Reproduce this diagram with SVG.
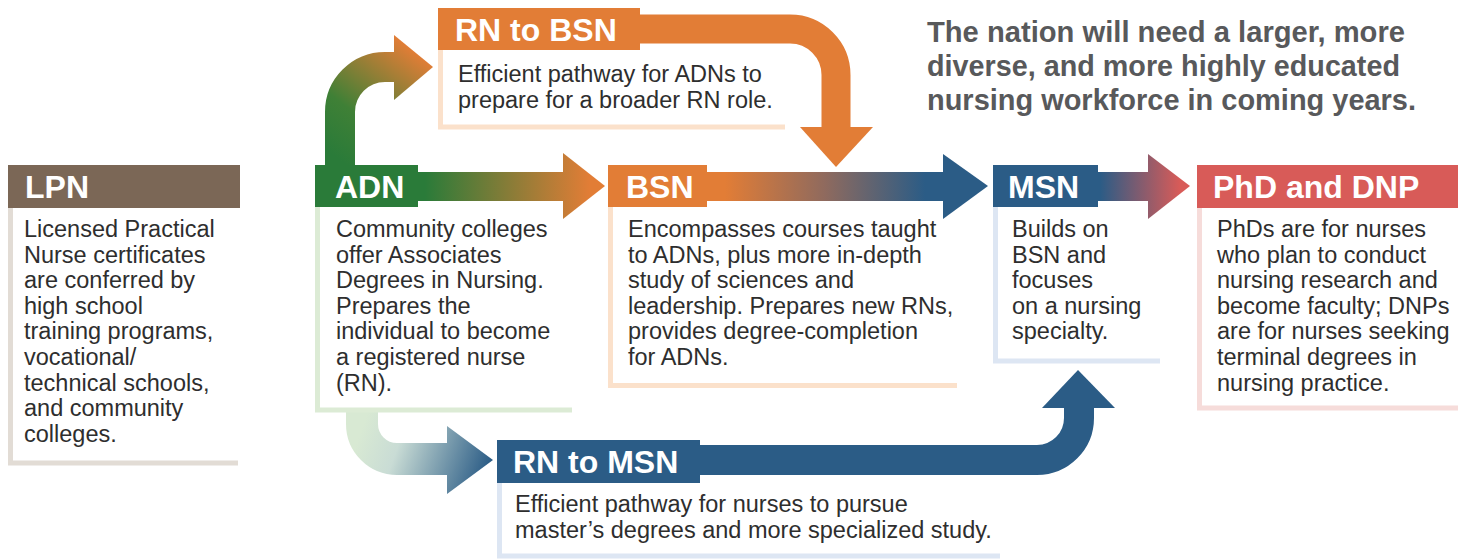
<svg xmlns="http://www.w3.org/2000/svg" width="1458" height="559" viewBox="0 0 1458 559">
<style>
.hd{font-family:"Liberation Sans",Arial,sans-serif;font-weight:bold;font-size:32px;fill:#fff}
.bd{font-family:"Liberation Sans",Arial,sans-serif;font-size:23.5px;fill:#2e2e2e}
.ttl{font-family:"Liberation Sans",Arial,sans-serif;font-weight:bold;font-size:30px;fill:#58595b}
.brd{fill:none;stroke-width:5}
</style>
<defs>
<linearGradient id="gUp" gradientUnits="userSpaceOnUse" x1="340" y1="160" x2="420" y2="55">
<stop offset="0" stop-color="#2a7b39"/><stop offset="0.35" stop-color="#3f8036"/><stop offset="1" stop-color="#e27d36"/>
</linearGradient>
<linearGradient id="gAB" gradientUnits="userSpaceOnUse" x1="425" y1="0" x2="590" y2="0">
<stop offset="0" stop-color="#2a7b39"/><stop offset="1" stop-color="#e27d36"/>
</linearGradient>
<linearGradient id="gBM" gradientUnits="userSpaceOnUse" x1="725" y1="0" x2="925" y2="0">
<stop offset="0" stop-color="#e27d36"/><stop offset="0.5" stop-color="#8f6a5e"/><stop offset="1" stop-color="#2b5c86"/>
</linearGradient>
<linearGradient id="gMP" gradientUnits="userSpaceOnUse" x1="1100" y1="0" x2="1180" y2="0">
<stop offset="0" stop-color="#2b5c86"/><stop offset="1" stop-color="#d85b58"/>
</linearGradient>
<linearGradient id="gRM" gradientUnits="userSpaceOnUse" x1="365" y1="420" x2="490" y2="465">
<stop offset="0" stop-color="#d8e9d3"/><stop offset="0.3" stop-color="#c9dcd5"/><stop offset="1" stop-color="#2b5c86"/>
</linearGradient>
</defs>

<g id="connectors">
  <path d="M340 166 V112 A45 45 0 0 1 385 67 H396" fill="none" stroke="url(#gUp)" stroke-width="30"/>
  <polygon points="394,35 433,67 394,100" fill="url(#gUp)"/>
  <path d="M636 29 H790 A46 46 0 0 1 836 75 V129" fill="none" stroke="#e27d36" stroke-width="29"/>
  <polygon points="800,127 873,127 836,167" fill="#e27d36"/>
  <rect x="416" y="172" width="150" height="29" fill="url(#gAB)"/>
  <polygon points="563,153 605,186 563,219" fill="url(#gAB)"/>
  <rect x="705" y="172" width="240" height="29" fill="url(#gBM)"/>
  <polygon points="943,154 988,186 943,219" fill="url(#gBM)"/>
  <rect x="1096" y="172" width="54" height="29" fill="url(#gMP)"/>
  <polygon points="1148,154 1190,186 1148,219" fill="url(#gMP)"/>
  <path d="M362 412 V424 A35 35 0 0 0 397 459 H450" fill="none" stroke="url(#gRM)" stroke-width="32"/>
  <polygon points="447,426 493,460 447,494" fill="url(#gRM)"/>
  <path d="M698 460 H1037 A42 42 0 0 0 1079 418 V406" fill="none" stroke="#2b5c86" stroke-width="30"/>
  <polygon points="1042,408 1115,408 1078,370" fill="#2b5c86"/>
</g>

<g id="title">
  <text class="ttl" x="927" y="42" textLength="478" lengthAdjust="spacingAndGlyphs">The nation will need a larger, more</text>
  <text class="ttl" x="927" y="76" textLength="473" lengthAdjust="spacingAndGlyphs">diverse, and more highly educated</text>
  <text class="ttl" x="927" y="110" textLength="489" lengthAdjust="spacingAndGlyphs">nursing workforce in coming years.</text>
</g>

<g id="node-lpn">
  <path class="brd" d="M10.5 208 V463 H238" stroke="#e2dcd5"/>
  <rect x="8" y="165" width="232" height="43" fill="#7b6756"/>
  <text class="hd" x="25" y="198">LPN</text>
  <text class="bd" x="24" y="237">
    <tspan x="24">Licensed Practical</tspan>
    <tspan x="24" dy="25.6">Nurse certificates</tspan>
    <tspan x="24" dy="25.6">are conferred by</tspan>
    <tspan x="24" dy="25.6">high school</tspan>
    <tspan x="24" dy="25.6">training programs,</tspan>
    <tspan x="24" dy="25.6">vocational/</tspan>
    <tspan x="24" dy="25.6">technical schools,</tspan>
    <tspan x="24" dy="25.6">and community</tspan>
    <tspan x="24" dy="25.6">colleges.</tspan>
  </text>
</g>

<g id="node-adn">
  <path class="brd" d="M317.5 207 V410 H572" stroke="#dcebd5"/>
  <rect x="315" y="165" width="103" height="42" fill="#2a7b39"/>
  <text class="hd" x="335" y="198">ADN</text>
  <text class="bd" x="336" y="237">
    <tspan x="336">Community colleges</tspan>
    <tspan x="336" dy="25.6">offer Associates</tspan>
    <tspan x="336" dy="25.6">Degrees in Nursing.</tspan>
    <tspan x="336" dy="25.6">Prepares the</tspan>
    <tspan x="336" dy="25.6">individual to become</tspan>
    <tspan x="336" dy="25.6">a registered nurse</tspan>
    <tspan x="336" dy="25.6">(RN).</tspan>
  </text>
</g>

<g id="node-rn-bsn">
  <path class="brd" d="M440.5 50 V127 H785" stroke="#fbe1cb"/>
  <rect x="438" y="8" width="202" height="42" fill="#e27d36"/>
  <text class="hd" x="455" y="41">RN to BSN</text>
  <text class="bd" x="458" y="82">
    <tspan x="458">Efficient pathway for ADNs to</tspan>
    <tspan x="458" dy="25.6">prepare for a broader RN role.</tspan>
  </text>
</g>

<g id="node-bsn">
  <path class="brd" d="M610.5 207 V385.5 H957" stroke="#fbe1cb"/>
  <rect x="608" y="165" width="99" height="42" fill="#e27d36"/>
  <text class="hd" x="626" y="198">BSN</text>
  <text class="bd" x="628" y="237">
    <tspan x="628">Encompasses courses taught</tspan>
    <tspan x="628" dy="25.6">to ADNs, plus more in-depth</tspan>
    <tspan x="628" dy="25.6">study of sciences and</tspan>
    <tspan x="628" dy="25.6">leadership. Prepares new RNs,</tspan>
    <tspan x="628" dy="25.6">provides degree-completion</tspan>
    <tspan x="628" dy="25.6">for ADNs.</tspan>
  </text>
</g>

<g id="node-msn">
  <path class="brd" d="M995.5 207 V361 H1160" stroke="#dde6f3"/>
  <rect x="993" y="165" width="105" height="42" fill="#2b5c86"/>
  <text class="hd" x="1008" y="198">MSN</text>
  <text class="bd" x="1012" y="237">
    <tspan x="1012">Builds on</tspan>
    <tspan x="1012" dy="25.6">BSN and</tspan>
    <tspan x="1012" dy="25.6">focuses</tspan>
    <tspan x="1012" dy="25.6">on a nursing</tspan>
    <tspan x="1012" dy="25.6">specialty.</tspan>
  </text>
</g>

<g id="node-phd">
  <path class="brd" d="M1199.5 208 V408 H1458" stroke="#f6dcda"/>
  <rect x="1197" y="165" width="261" height="43" fill="#d85b58"/>
  <text class="hd" x="1213" y="198">PhD and DNP</text>
  <text class="bd" x="1217" y="237">
    <tspan x="1217">PhDs are for nurses</tspan>
    <tspan x="1217" dy="25.6">who plan to conduct</tspan>
    <tspan x="1217" dy="25.6">nursing research and</tspan>
    <tspan x="1217" dy="25.6">become faculty; DNPs</tspan>
    <tspan x="1217" dy="25.6">are for nurses seeking</tspan>
    <tspan x="1217" dy="25.6">terminal degrees in</tspan>
    <tspan x="1217" dy="25.6">nursing practice.</tspan>
  </text>
</g>

<g id="node-rn-msn">
  <path class="brd" d="M499.5 483 V556 H1000" stroke="#dde6f3"/>
  <rect x="497" y="440" width="203" height="43" fill="#2b5c86"/>
  <text class="hd" x="513" y="473">RN to MSN</text>
  <text class="bd" x="515" y="512">
    <tspan x="515">Efficient pathway for nurses to pursue</tspan>
    <tspan x="515" dy="25.6">master’s degrees and more specialized study.</tspan>
  </text>
</g>
</svg>
